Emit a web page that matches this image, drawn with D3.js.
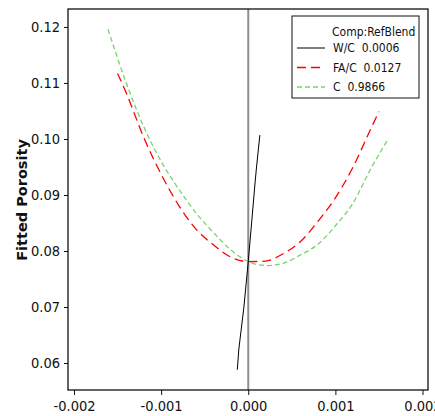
<!DOCTYPE html>
<html><head><meta charset="utf-8">
<script src="https://cdn.jsdelivr.net/npm/d3@7"></script>
<style>
html,body{margin:0;padding:0;background:#fff;}
svg{display:block;}
.tick text{font-family:"Liberation Sans Narrow","DejaVu Sans Condensed",sans-serif;font-size:14.5px;fill:#111;}
</style></head>
<body><svg id="chart" width="435" height="416"></svg>
<script>
// ---- data ----
const xTicks = [-0.002, -0.001, 0, 0.001, 0.002];
const yTicks = [0.06, 0.07, 0.08, 0.09, 0.10, 0.11, 0.12];
const legendTitle = "Comp:RefBlend";
const seriesNames = ["W/C", "FA/C", "C"];
const seriesRef = ["0.0006", "0.0127", "0.9866"];

const wcX = [-0.000126, -0.000108, -0.00005, 0, 0.00008, 0.000095, 0.000133];
const wcY = [0.0588, 0.0625, 0.0700, 0.0781, 0.0925, 0.0950, 0.1007];

const facX = [-0.0015, -0.0014, -0.0012, -0.001, -0.0008, -0.0006, -0.0004, -0.0002, 0, 0.0002, 0.0004, 0.0006, 0.0008, 0.001, 0.0012, 0.0014, 0.0015];
const facY = [0.1117, 0.1082, 0.1003, 0.0937, 0.0882, 0.0839, 0.0811, 0.0789, 0.0781, 0.0782, 0.0795, 0.0817, 0.0853, 0.0895, 0.0949, 0.1016, 0.1049];

const cX = [-0.00161, -0.0014, -0.0012, -0.001, -0.0008, -0.0006, -0.0004, -0.0002, 0, 0.0002, 0.0004, 0.0006, 0.0008, 0.001, 0.0012, 0.0014, 0.00161];
const cY = [0.1196, 0.1100, 0.1022, 0.0960, 0.0911, 0.0868, 0.0833, 0.0802, 0.0781, 0.0774, 0.0778, 0.0793, 0.0812, 0.0845, 0.0885, 0.0945, 0.1001];

// ---- drawing ----
const svg = d3.select("#chart");
const L = 68, R = 428, T = 9, B = 390;
const x = d3.scaleLinear().domain([-0.002069, 0.002063]).range([L, R]);
const y = d3.scaleLinear().domain([0.05518, 0.12321]).range([B, T]);

// vertical reference line at 0
svg.append("line").attr("x1", x(0)).attr("x2", x(0)).attr("y1", T).attr("y2", B)
  .attr("stroke", "#8e8e8e").attr("stroke-width", 2);

const fmtX = d => d3.format(".3f")(d).replace("\u2212", "-");
const fmtY = d => d3.format(".2f")(d);

const xAxis = svg.append("g").attr("transform", `translate(0,${B})`)
  .call(d3.axisBottom(x).tickValues(xTicks).tickFormat(fmtX).tickSizeOuter(0).tickSize(5).tickPadding(6));
const yAxis = svg.append("g").attr("transform", `translate(${L},0)`)
  .call(d3.axisLeft(y).tickValues(yTicks).tickFormat(fmtY).tickSizeOuter(0).tickSize(4).tickPadding(4));
[xAxis, yAxis].forEach(a => { a.select(".domain").remove(); a.selectAll("line").attr("stroke", "#111"); });

// frame
svg.append("rect").attr("x", L).attr("y", T).attr("width", R - L).attr("height", B - T)
  .attr("fill", "none").attr("stroke", "#111").attr("stroke-width", 1.3);

const line = d3.line().x(d => x(d[0])).y(d => y(d[1]));
const smooth = d3.line().x(d => x(d[0])).y(d => y(d[1])).curve(d3.curveMonotoneX);

const styles = [
  { color: "#000000", dash: null, w: 1 },
  { color: "#ff0000", dash: "9,5", w: 1.3 },
  { color: "#77d46a", dash: "5,3", w: 1.3 }
];

svg.append("path").datum(cX.map((v, i) => [v, cY[i]])).attr("d", smooth)
  .attr("fill", "none").attr("stroke", styles[2].color).attr("stroke-width", styles[2].w).attr("stroke-dasharray", styles[2].dash);
svg.append("path").datum(facX.map((v, i) => [v, facY[i]])).attr("d", smooth)
  .attr("fill", "none").attr("stroke", styles[1].color).attr("stroke-width", styles[1].w).attr("stroke-dasharray", styles[1].dash);
svg.append("path").datum(wcX.map((v, i) => [v, wcY[i]])).attr("d", line)
  .attr("fill", "none").attr("stroke", styles[0].color).attr("stroke-width", styles[0].w);

// y title
svg.append("text").attr("transform", "translate(27,200) rotate(-90)")
  .attr("text-anchor", "middle").attr("font-family", "DejaVu Sans").attr("font-weight", "bold")
  .attr("font-size", 14.5).attr("fill", "#111").text("Fitted Porosity");

// legend
const lg = svg.append("g");
lg.append("rect").attr("x", 292).attr("y", 16).attr("width", 127).attr("height", 82)
  .attr("fill", "#fff").attr("stroke", "#111").attr("stroke-width", 1);
const lfont = "'Liberation Sans Narrow','DejaVu Sans Condensed',sans-serif";
lg.append("text").attr("x", 332).attr("y", 36).attr("font-family", lfont).attr("font-size", 12)
  .attr("fill", "#111").text(legendTitle);
seriesNames.forEach((n, i) => {
  const yy = 48 + i * 19.5;
  lg.append("line").attr("x1", 297).attr("x2", 325).attr("y1", yy).attr("y2", yy)
    .attr("stroke", styles[i].color).attr("stroke-width", styles[i].w)
    .attr("stroke-dasharray", styles[i].dash);
  lg.append("text").attr("x", 333).attr("y", yy + 4).attr("font-family", lfont).attr("font-size", 12)
    .attr("fill", "#111").attr("xml:space", "preserve").text(n + "  " + seriesRef[i]);
});
</script></body></html>
